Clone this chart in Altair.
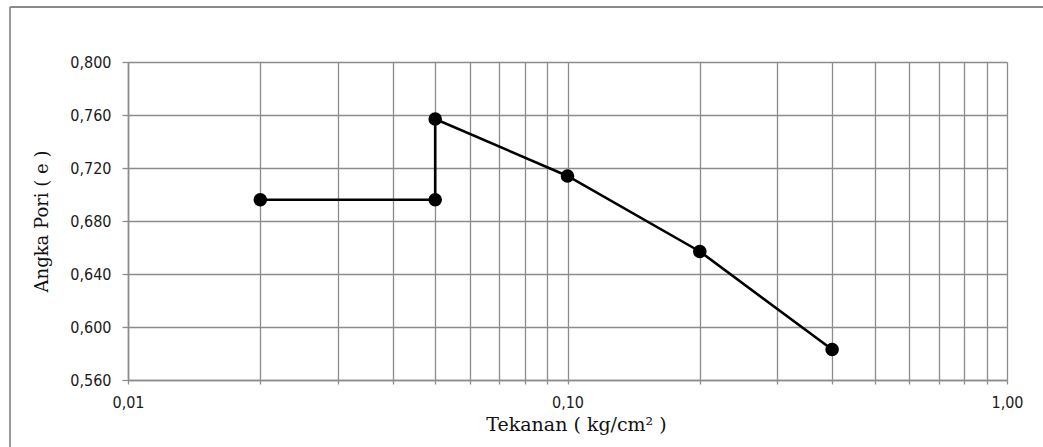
import altair as alt
import pandas as pd

# data
pressure = [0.02, 0.05, 0.05, 0.10, 0.20, 0.40]
void_ratio = [0.696, 0.696, 0.757, 0.714, 0.657, 0.583]
order = [1, 2, 3, 4, 5, 6]

x_ticks = [0.01, 0.02, 0.03, 0.04, 0.05, 0.06, 0.07, 0.08, 0.09,
           0.1, 0.2, 0.3, 0.4, 0.5, 0.6, 0.7, 0.8, 0.9, 1.0]
y_ticks = [0.56, 0.60, 0.64, 0.68, 0.72, 0.76, 0.80]

df = pd.DataFrame({"p": pressure, "e": void_ratio, "o": order})

GRID = "#8c8c8c"
LABEL_FONT = "DejaVu Sans Condensed, Liberation Sans"

x_enc = alt.X(
    "p:Q",
    scale=alt.Scale(type="log", domain=[0.01, 1.0], nice=False),
    axis=alt.Axis(
        values=x_ticks,
        labelExpr="abs(log(datum.value)/LN10 - round(log(datum.value)/LN10)) < 0.000001 ? replace(format(datum.value, '.2f'), '.', ',') : ''",
        grid=True, gridColor=GRID, gridWidth=1.3,
        domainColor=GRID, domainWidth=1.6,
        tickColor=GRID, tickSize=4, tickWidth=1.3,
        labelFont=LABEL_FONT, labelFontSize=16, labelColor="#1a1a1a",
        labelPadding=10, labelFlush=False, labelOverlap=False,
        title="Tekanan ( kg/cm² )", titleFont="DejaVu Serif", titleFontSize=19,
        titleFontWeight="normal", titleColor="#111111", titlePadding=5,
        titleAnchor="start", titleAlign="center", titleX=448,
    ),
)
y_enc = alt.Y(
    "e:Q",
    scale=alt.Scale(domain=[0.56, 0.80], nice=False, zero=False),
    axis=alt.Axis(
        values=y_ticks,
        labelExpr="replace(format(datum.value, '.3f'), '.', ',')",
        grid=True, gridColor=GRID, gridWidth=1.3,
        domainColor=GRID, domainWidth=1.6,
        tickColor=GRID, tickSize=6, tickWidth=1.3,
        labelFont=LABEL_FONT, labelFontSize=16, labelColor="#1a1a1a",
        labelPadding=11, labelOverlap=False,
        title="Angka Pori ( e )", titleFont="DejaVu Serif", titleFontSize=18,
        titleFontWeight="normal", titleColor="#111111", titlePadding=18,
    ),
)

line = alt.Chart(df).mark_line(color="black", strokeWidth=2.6).encode(
    x=x_enc, y=y_enc, order="o:O"
)
pts = alt.Chart(df).mark_circle(color="black", opacity=1, size=185).encode(
    x="p:Q", y="e:Q"
)

# chart frame (decoration, outside the plot area)
frame_left = alt.Chart(df).mark_rule(color="#9a9a9a", strokeWidth=2).encode(
    x=alt.value(-118), y=alt.value(-55), y2=alt.value(400)
)
frame_top = alt.Chart(df).mark_rule(color="#8a8a8a", strokeWidth=1.5).encode(
    x=alt.value(-118), x2=alt.value(920), y=alt.value(-55)
)

chart = (
    alt.layer(frame_left, frame_top, line, pts)
    .properties(
        width=879,
        height=318,
        autosize=alt.AutoSizeParams(type="none"),
        padding={"left": 128, "top": 62, "right": 36, "bottom": 67},
        background="white",
    )
    .configure_view(stroke=None)
)

chart.save("out.html", embed_options={"renderer": "svg", "actions": False})
